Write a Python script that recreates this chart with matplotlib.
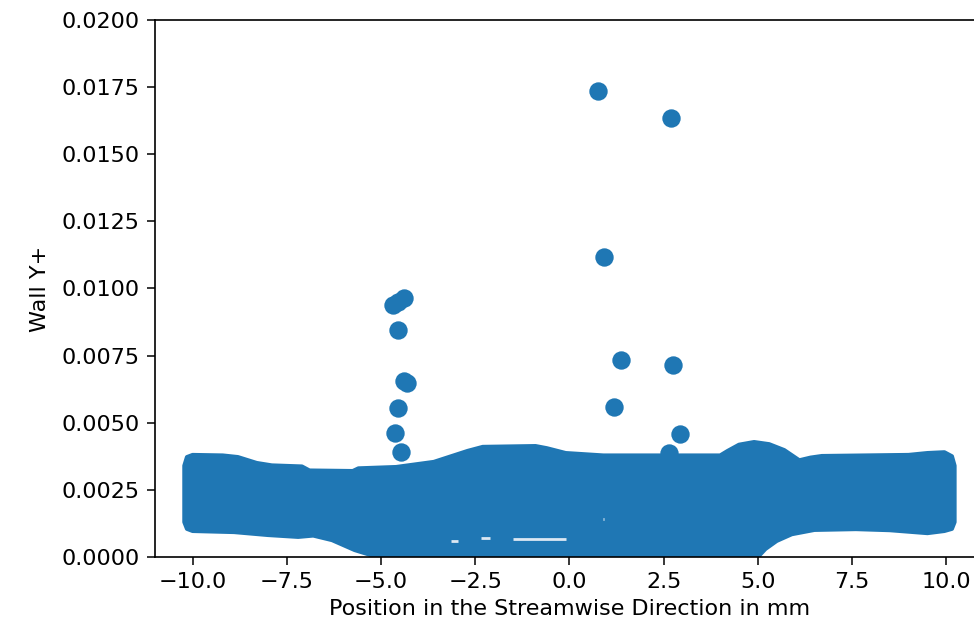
"""Wall Y+ along the streamwise direction, scatter of wall cells."""

import matplotlib.pyplot as plt

BLUE = "#1f77b4"

# Upper and lower edges of the dense band of wall cells (mm, Wall Y+)
upper_x = [-10.22, -10.15, -10.0, -9.2, -8.8, -8.3, -7.9, -7.1, -6.9,
           -5.75, -5.6, -4.6, -3.6, -2.7, -2.3, -0.9, -0.6, -0.1, 0.9,
           4.0, 4.2, 4.5, 4.9, 5.3, 5.7, 6.1, 6.4, 6.7, 9.0, 9.5, 9.95,
           10.15, 10.22]
upper_y = [0.00340, 0.00372, 0.00380, 0.00378, 0.00372, 0.00350, 0.00341,
           0.00337, 0.00322, 0.00320, 0.00330, 0.00335, 0.00354, 0.00395,
           0.00410, 0.00413, 0.00405, 0.00387, 0.00378, 0.00378, 0.00395,
           0.00418, 0.00428, 0.00420, 0.00398, 0.00360, 0.00370, 0.00376,
           0.00380, 0.00387, 0.00390, 0.00375, 0.00340]
lower_x = [-10.22, -10.15, -10.0, -8.9, -8.0, -7.2, -6.8, -6.3, -5.7, -5.1,
           5.0, 5.2, 5.5, 5.9, 6.5, 7.6, 8.5, 9.5, 9.95, 10.15, 10.22]
lower_y = [0.00130, 0.00105, 0.00097, 0.00093, 0.00082, 0.00075, 0.00080,
           0.00063, 0.00026, 0.0, 0.0, 0.00030, 0.00060, 0.00085, 0.00101,
           0.00104, 0.00100, 0.00089, 0.00097, 0.00105, 0.00130]

# Empty pockets near the bottom of the band (x start, x end, Wall Y+)
gap_x0 = [-3.15, -2.35, -1.5, 0.88]
gap_x1 = [-2.95, -2.1, -0.1, 0.92]
gap_y = [0.00060, 0.00070, 0.00066, 0.00140]

# Isolated cells standing above the band
spike_x = [-4.67, -4.40, -4.56, -4.56, -4.40, -4.30, -4.56, -4.62, -4.46,
           0.77, 0.93, 1.38, 1.19, 2.70, 2.76, 2.94, 2.65]
spike_y = [0.00939, 0.00965, 0.00950, 0.00845, 0.00656, 0.00648, 0.00555,
           0.00462, 0.00391,
           0.01736, 0.01117, 0.00734, 0.00559, 0.01635, 0.00715, 0.00458,
           0.00387]

fig = plt.figure(figsize=(9.74, 6.37), dpi=100)
ax = fig.add_axes([0.1591, 0.1256, 0.8511, 0.843])

outline_x = upper_x + lower_x[::-1]
outline_y = upper_y + lower_y[::-1]
ax.fill(outline_x, outline_y, facecolor=BLUE, edgecolor=BLUE, linewidth=3,
        joinstyle="round")
ax.hlines(gap_y, gap_x0, gap_x1, color="#dce8f3", linewidth=2)
ax.scatter(spike_x, spike_y, s=175, color=BLUE, linewidths=0)

ax.set_xlim(-11, 11)
ax.set_ylim(0, 0.02)
ax.set_xticks([-10, -7.5, -5, -2.5, 0, 2.5, 5, 7.5, 10])
ax.set_xticklabels(["−10.0", "−7.5", "−5.0", "−2.5", "0.0", "2.5", "5.0",
                    "7.5", "10.0"])
ax.set_yticks([i * 0.0025 for i in range(9)])
ax.set_yticklabels([f"{i * 0.0025:.4f}" for i in range(9)])

ax.tick_params(labelsize=16, length=6, width=1.1, pad=5)
for spine in ax.spines.values():
    spine.set_linewidth(1.2)

ax.set_xlabel("Position in the Streamwise Direction in mm", fontsize=16,
              labelpad=5)
ax.set_ylabel("Wall Y+", fontsize=16, labelpad=8)

fig.savefig("out.png", dpi=100)
